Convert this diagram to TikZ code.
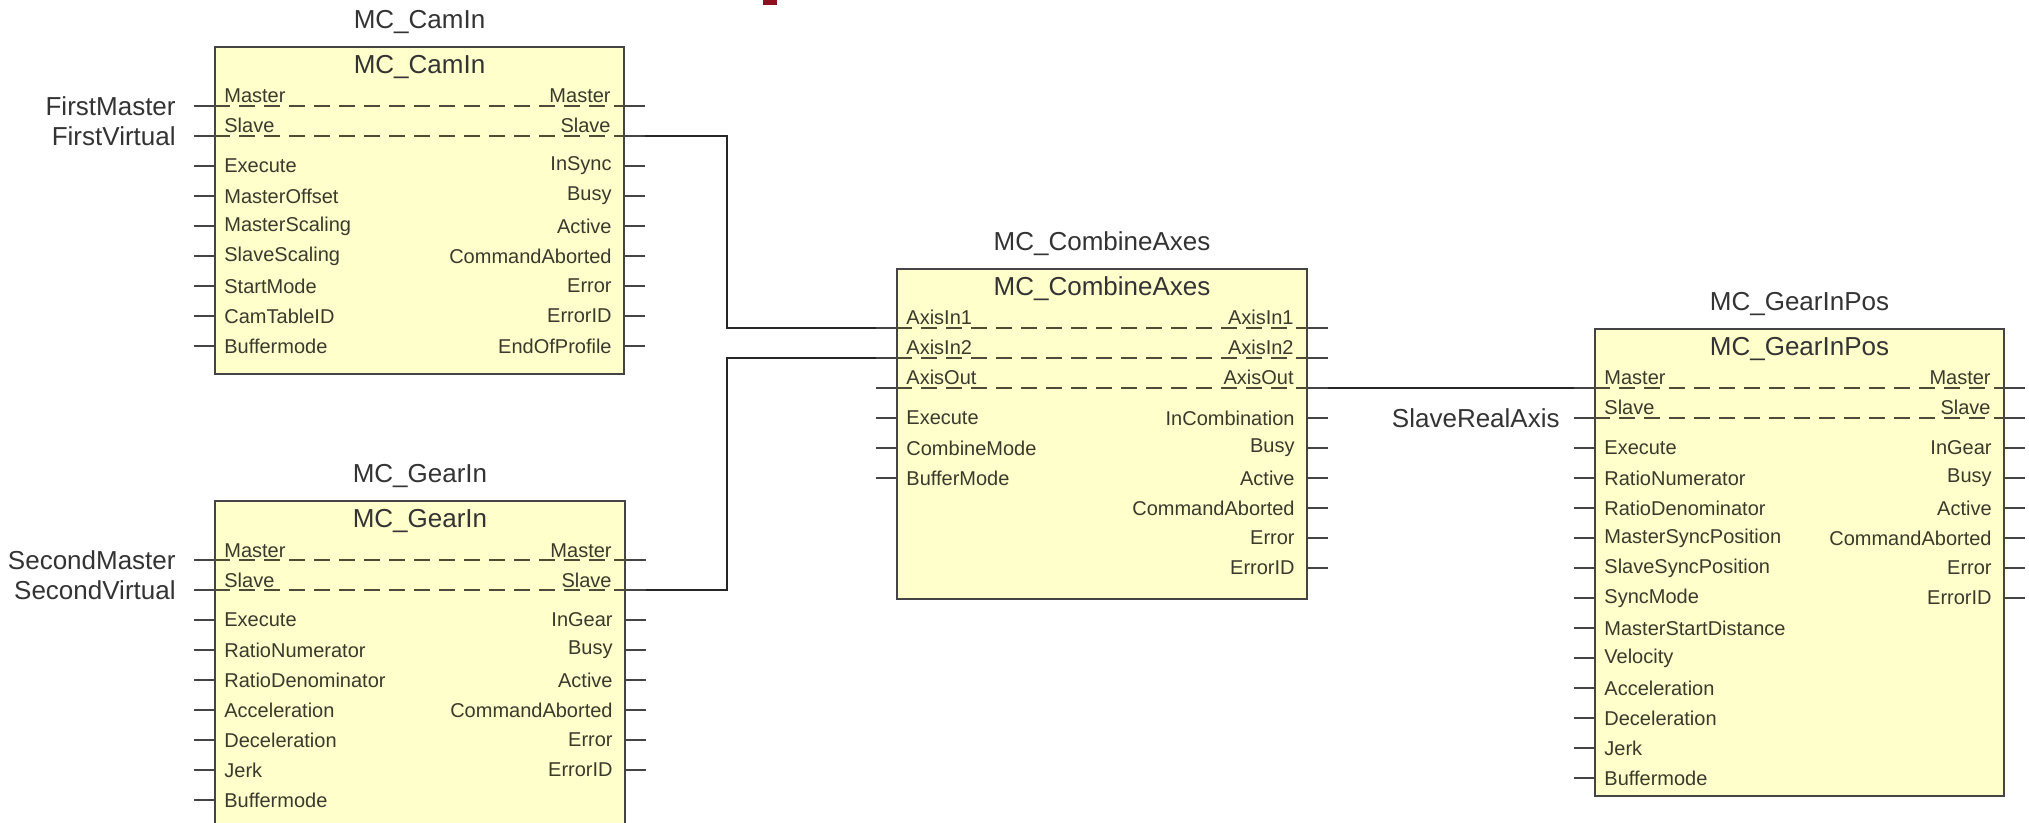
\documentclass[tikz,border=0pt]{standalone}
\usepackage{fontspec}
\setmainfont{Liberation Sans}
\usetikzlibrary{positioning}
\definecolor{fbfill}{HTML}{FFFFCC}
\definecolor{fbline}{HTML}{444444}
\definecolor{fbtext}{HTML}{333333}
\definecolor{fbpintext}{HTML}{3A3A2C}
\definecolor{fbdashc}{HTML}{4B4B36}
\definecolor{fbred}{HTML}{8E0F1F}
\tikzset{
  fbbox/.style={draw=fbline, fill=fbfill, line width=1pt, inner sep=0pt},
  fbtitle/.style={font=\fontsize{13}{15}\selectfont, text=fbtext, inner sep=0pt},
  fbext/.style={font=\fontsize{13}{15}\selectfont, text=fbtext, inner ysep=0pt},
  fbpin/.style={font=\fontsize{10}{12}\selectfont, text=fbpintext, inner ysep=0pt},
  fbstub/.style={draw=fbline, line width=1pt},
  fbdash/.style={draw=fbdashc, line width=1.3pt, dash pattern=on 8pt off 4.5pt},
  fbwire/.style={draw=black!85, line width=1pt}
}
\newcommand{\fbblock}[6] {\node at (#2,#3) (#1) [fbbox, anchor=north west, minimum width=#4*0.5pt, minimum height=#5*0.5pt] {};
  \node at (#1.north) (#1-name) [fbtitle, yshift=12pt] {#6};
  \node at (#1.north) (#1-head) [fbtitle, yshift=-10.5pt] {#6};}
\newcommand{\fbin}[3] {\coordinate (#1-l#2) at ([yshift=-30pt-15pt*#2]#1.north west);
  \node at (#1-l#2) (#1-lt#2) [fbpin, anchor=west, inner xsep=5pt] {#3};
  \draw [fbstub] (#1-l#2) -- ++(-20,0) coordinate (#1-lx#2);}
\newcommand{\fbout}[3] {\coordinate (#1-r#2) at ([yshift=-30pt-15pt*#2]#1.north east);
  \node at (#1-r#2) (#1-rt#2) [fbpin, anchor=east, inner xsep=6.5pt] {#3};
  \draw [fbstub] (#1-r#2) -- ++(20,0) coordinate (#1-rx#2);}
\newcommand{\fbvar}[3] {\coordinate (#1-l#2) at ([yshift=-30pt-15pt*#2]#1.north west);
  \coordinate (#1-r#2) at ([yshift=-30pt-15pt*#2]#1.north east);
  \draw [fbdash] (#1-l#2) -- (#1-r#2);
  \draw [fbstub] (#1-l#2) -- ++(-20,0) coordinate (#1-lx#2);
  \draw [fbstub] (#1-r#2) -- ++(20,0) coordinate (#1-rx#2);
  \node at (#1-l#2) (#1-lt#2) [fbpin, anchor=base west, inner xsep=5pt, yshift=1.5pt] {#3};
  \node at (#1-r#2) (#1-rt#2) [fbpin, anchor=base east, inner xsep=7pt, yshift=1.5pt] {#3};}
\newcommand{\fbinput}[3] {\node at (#1) (#2) [fbext, anchor=east, inner xsep=#3] {#2};}
\newcommand{\fbwire}[3] {\draw [fbwire] (#1) -| (#3 |- #2) -- (#2);}

\begin{document}
\begin{tikzpicture}[x=0.5pt, y=-0.5pt]
\useasboundingbox (0,0) rectangle (2029,823);
\fill [fbred] (763,0) rectangle (777,5);

\fbblock {camin}{214}{46}{409}{327}{MC\_CamIn}
\fbvar {camin}{0}{Master}
\fbvar {camin}{1}{Slave}
\fbin {camin}{2}{Execute}
\fbin {camin}{3}{MasterOffset}
\fbin {camin}{4}{MasterScaling}
\fbin {camin}{5}{SlaveScaling}
\fbin {camin}{6}{StartMode}
\fbin {camin}{7}{CamTableID}
\fbin {camin}{8}{Buffermode}
\fbout {camin}{2}{InSync}
\fbout {camin}{3}{Busy}
\fbout {camin}{4}{Active}
\fbout {camin}{5}{CommandAborted}
\fbout {camin}{6}{Error}
\fbout {camin}{7}{ErrorID}
\fbout {camin}{8}{EndOfProfile}

\fbblock {gearin}{214}{500}{410}{360}{MC\_GearIn}
\fbvar {gearin}{0}{Master}
\fbvar {gearin}{1}{Slave}
\fbin {gearin}{2}{Execute}
\fbin {gearin}{3}{RatioNumerator}
\fbin {gearin}{4}{RatioDenominator}
\fbin {gearin}{5}{Acceleration}
\fbin {gearin}{6}{Deceleration}
\fbin {gearin}{7}{Jerk}
\fbin {gearin}{8}{Buffermode}
\fbout {gearin}{2}{InGear}
\fbout {gearin}{3}{Busy}
\fbout {gearin}{4}{Active}
\fbout {gearin}{5}{CommandAborted}
\fbout {gearin}{6}{Error}
\fbout {gearin}{7}{ErrorID}

\fbblock {combine}{896}{268}{410}{330}{MC\_CombineAxes}
\fbvar {combine}{0}{AxisIn1}
\fbvar {combine}{1}{AxisIn2}
\fbvar {combine}{2}{AxisOut}
\fbin {combine}{3}{Execute}
\fbin {combine}{4}{CombineMode}
\fbin {combine}{5}{BufferMode}
\fbout {combine}{3}{InCombination}
\fbout {combine}{4}{Busy}
\fbout {combine}{5}{Active}
\fbout {combine}{6}{CommandAborted}
\fbout {combine}{7}{Error}
\fbout {combine}{8}{ErrorID}

\fbblock {gearinpos}{1594}{328}{409}{467}{MC\_GearInPos}
\fbvar {gearinpos}{0}{Master}
\fbvar {gearinpos}{1}{Slave}
\fbin {gearinpos}{2}{Execute}
\fbin {gearinpos}{3}{RatioNumerator}
\fbin {gearinpos}{4}{RatioDenominator}
\fbin {gearinpos}{5}{MasterSyncPosition}
\fbin {gearinpos}{6}{SlaveSyncPosition}
\fbin {gearinpos}{7}{SyncMode}
\fbin {gearinpos}{8}{MasterStartDistance}
\fbin {gearinpos}{9}{Velocity}
\fbin {gearinpos}{10}{Acceleration}
\fbin {gearinpos}{11}{Deceleration}
\fbin {gearinpos}{12}{Jerk}
\fbin {gearinpos}{13}{Buffermode}
\fbout {gearinpos}{2}{InGear}
\fbout {gearinpos}{3}{Busy}
\fbout {gearinpos}{4}{Active}
\fbout {gearinpos}{5}{CommandAborted}
\fbout {gearinpos}{6}{Error}
\fbout {gearinpos}{7}{ErrorID}

\fbinput {camin-lx0}{FirstMaster}{9pt}
\fbinput {camin-lx1}{FirstVirtual}{9pt}
\fbinput {gearin-lx0}{SecondMaster}{9pt}
\fbinput {gearin-lx1}{SecondVirtual}{9pt}
\fbinput {gearinpos-lx1}{SlaveRealAxis}{7pt}

\coordinate (bus) at (727,0);
\fbwire {camin-rx1}{combine-lx0}{bus}
\fbwire {gearin-rx1}{combine-lx1}{bus}
\draw [fbwire] (combine-rx2) -- (gearinpos-lx0);
\end{tikzpicture}
\end{document}
